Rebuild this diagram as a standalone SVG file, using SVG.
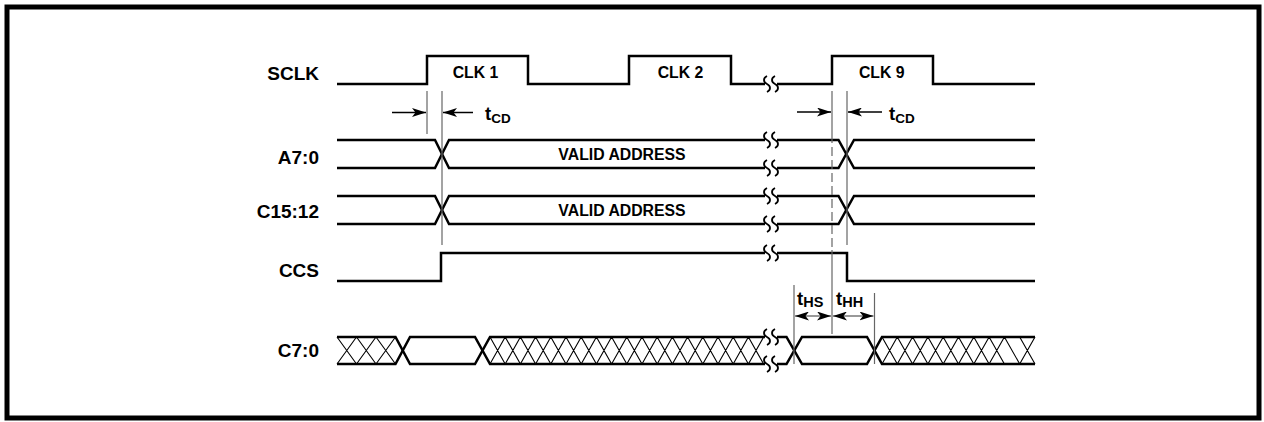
<svg xmlns="http://www.w3.org/2000/svg" width="1264" height="422" viewBox="0 0 1264 422">
<style>
.sig{fill:none;stroke:#000;stroke-width:2.5;stroke-linejoin:miter}
.hatch{fill:none;stroke:#000;stroke-width:1.1}
.guide{fill:none;stroke:#666;stroke-width:1.2}
.brk{fill:none;stroke:#000;stroke-width:1.8}
.arr{fill:none;stroke:#000;stroke-width:1.5}
.arrg{fill:none;stroke:#777;stroke-width:1.5}
.lbl{font-family:"Liberation Sans",Arial,sans-serif;font-weight:bold;font-size:19px;fill:#000;text-anchor:end}
.clk{font-family:"Liberation Sans",Arial,sans-serif;font-weight:bold;font-size:15.8px;fill:#000;text-anchor:middle}
.tm{font-family:"Liberation Sans",Arial,sans-serif;font-weight:bold;font-size:18.5px;fill:#000}
.sub{font-size:13.5px}
.sub2{font-size:14.5px}
</style>
<defs>
<marker id="ah" viewBox="0 0 14 9" refX="14" refY="4.5" markerWidth="14" markerHeight="9" markerUnits="userSpaceOnUse" orient="auto-start-reverse">
<path d="M0,0 L14,4.5 L0,9 L3.5,4.5 z" fill="#000"/>
</marker>
<path id="sq" d="M0,-8 C-4,-6 -4,-2 0,0 C4,2 4,6 0,8"/>
</defs>
<rect x="7" y="7" width="1252" height="411" fill="#fff" stroke="#000" stroke-width="5"/>

<g id="labels">
<text class="lbl" x="319" y="79.5">SCLK</text>
<text class="lbl" x="319" y="164">A7:0</text>
<text class="lbl" x="319" y="218">C15:12</text>
<text class="lbl" x="319" y="277">CCS</text>
<text class="lbl" x="319" y="357">C7:0</text>
</g>

<g id="sclk">
<path class="sig" d="M337,84 H427 V56 H528 V84 H629 V56 H731 V84 H765"/>
<path class="sig" d="M777,84 H832 V56 H933 V84 H1035"/>
<text class="clk" x="475.5" y="78">CLK 1</text>
<text class="clk" x="680.5" y="78">CLK 2</text>
<text class="clk" x="881.7" y="78">CLK 9</text>
</g>

<g id="a70">
<path class="sig" d="M337,140 H435 L449,168 H765"/>
<path class="sig" d="M337,168 H435 L449,140 H765"/>
<path class="sig" d="M777,140 H838.5 L854,168 H1035"/>
<path class="sig" d="M777,168 H838.5 L854,140 H1035"/>
<text class="clk" x="622" y="160">VALID ADDRESS</text>
</g>

<g id="c1512">
<path class="sig" d="M337,196 H435 L449,224 H765"/>
<path class="sig" d="M337,224 H435 L449,196 H765"/>
<path class="sig" d="M777,196 H838.5 L854,224 H1035"/>
<path class="sig" d="M777,224 H838.5 L854,196 H1035"/>
<text class="clk" x="622" y="216">VALID ADDRESS</text>
</g>

<g id="ccs">
<path class="sig" d="M337,281 H441 V253 H765"/>
<path class="sig" d="M777,253 H847 V281 H1035"/>
</g>

<g id="c70">
<path class="sig" d="M337,337 H395.5 L410,364 H475 L490,337 H765"/>
<path class="sig" d="M337,364 H395.5 L410,337 H475 L490,364 H765"/>
<path class="sig" d="M777,337 H786.5 L802,364 H867 L882,337 H1035"/>
<path class="sig" d="M777,364 H786.5 L802,337 H867 L882,364 H1035"/>
<path class="hatch" d="M337,337 L356.5,364 M356.5,337 L337,364 M356.5,337 L376,364 M376,337 L356.5,364 M376,337 L395.5,364 M395.5,337 L376,364"/>
<path class="hatch" d="M490,337 L505.2,364 M505.2,337 L490,364 M505.2,337 L520.4,364 M520.4,337 L505.2,364 M520.4,337 L535.6,364 M535.6,337 L520.4,364 M535.6,337 L550.8,364 M550.8,337 L535.6,364 M550.8,337 L566,364 M566,337 L550.8,364 M566,337 L581.2,364 M581.2,337 L566,364 M581.2,337 L596.4,364 M596.4,337 L581.2,364 M596.4,337 L611.6,364 M611.6,337 L596.4,364 M611.6,337 L626.8,364 M626.8,337 L611.6,364 M626.8,337 L642,364 M642,337 L626.8,364 M642,337 L657.2,364 M657.2,337 L642,364 M657.2,337 L672.4,364 M672.4,337 L657.2,364 M672.4,337 L687.6,364 M687.6,337 L672.4,364 M687.6,337 L702.8,364 M702.8,337 L687.6,364 M702.8,337 L718,364 M718,337 L702.8,364 M718,337 L733.2,364 M733.2,337 L718,364 M733.2,337 L748.4,364 M748.4,337 L733.2,364 M748.4,337 L763.6,364 M763.6,337 L748.4,364"/>
<path class="hatch" d="M882,337 L897.3,364 M897.3,337 L882,364 M897.3,337 L912.6,364 M912.6,337 L897.3,364 M912.6,337 L927.9,364 M927.9,337 L912.6,364 M927.9,337 L943.2,364 M943.2,337 L927.9,364 M943.2,337 L958.5,364 M958.5,337 L943.2,364 M958.5,337 L973.8,364 M973.8,337 L958.5,364 M973.8,337 L989.1,364 M989.1,337 L973.8,364 M989.1,337 L1004.4,364 M1004.4,337 L989.1,364 M1004.4,337 L1019.7,364 M1019.7,337 L1035,364 M1035,337 L1019.7,364"/>
</g>

<g id="breaks" class="brk">
<use href="#sq" x="767" y="84"/><use href="#sq" x="775" y="84"/>
<use href="#sq" x="767" y="140"/><use href="#sq" x="775" y="140"/>
<use href="#sq" x="767" y="168"/><use href="#sq" x="775" y="168"/>
<use href="#sq" x="767" y="196"/><use href="#sq" x="775" y="196"/>
<use href="#sq" x="767" y="224"/><use href="#sq" x="775" y="224"/>
<use href="#sq" x="767" y="253"/><use href="#sq" x="775" y="253"/>
<use href="#sq" x="767" y="337"/><use href="#sq" x="775" y="337"/>
<use href="#sq" x="767" y="364"/><use href="#sq" x="775" y="364"/>
</g>

<g id="connectors">
<line class="guide" x1="427" y1="91" x2="427" y2="134"/>
<line class="guide" x1="442" y1="91" x2="442" y2="245"/>
<line class="guide" x1="832" y1="91" x2="832" y2="134"/>
<line class="guide" x1="832" y1="134" x2="832" y2="250" stroke-dasharray="9,4"/>
<line class="guide" x1="832" y1="250" x2="832" y2="334"/>
<line class="guide" x1="847" y1="91" x2="847" y2="245"/>
<line class="guide" x1="794" y1="285" x2="794" y2="364"/>
<line class="guide" x1="874.5" y1="293" x2="874.5" y2="364"/>
<line class="arr" x1="392" y1="112.5" x2="426" y2="112.5" marker-end="url(#ah)"/>
<line class="arr" x1="473" y1="112.5" x2="443" y2="112.5" marker-end="url(#ah)"/>
<line class="arr" x1="797" y1="112" x2="831" y2="112" marker-end="url(#ah)"/>
<line class="arr" x1="882" y1="112" x2="848" y2="112" marker-end="url(#ah)"/>
<line class="arrg" x1="795" y1="316" x2="831" y2="316" marker-start="url(#ah)" marker-end="url(#ah)"/>
<line class="arrg" x1="833" y1="316" x2="873.5" y2="316" marker-start="url(#ah)" marker-end="url(#ah)"/>
</g>

<g id="timing-labels">
<text class="tm" x="485" y="120">t<tspan class="sub" dy="3.3">CD</tspan></text>
<text class="tm" x="889" y="120">t<tspan class="sub" dy="3.3">CD</tspan></text>
<text class="tm" x="797" y="305">t<tspan class="sub2" dy="1.7">HS</tspan></text>
<text class="tm" x="836" y="305">t<tspan class="sub2" dy="1.7">HH</tspan></text>
</g>
</svg>
